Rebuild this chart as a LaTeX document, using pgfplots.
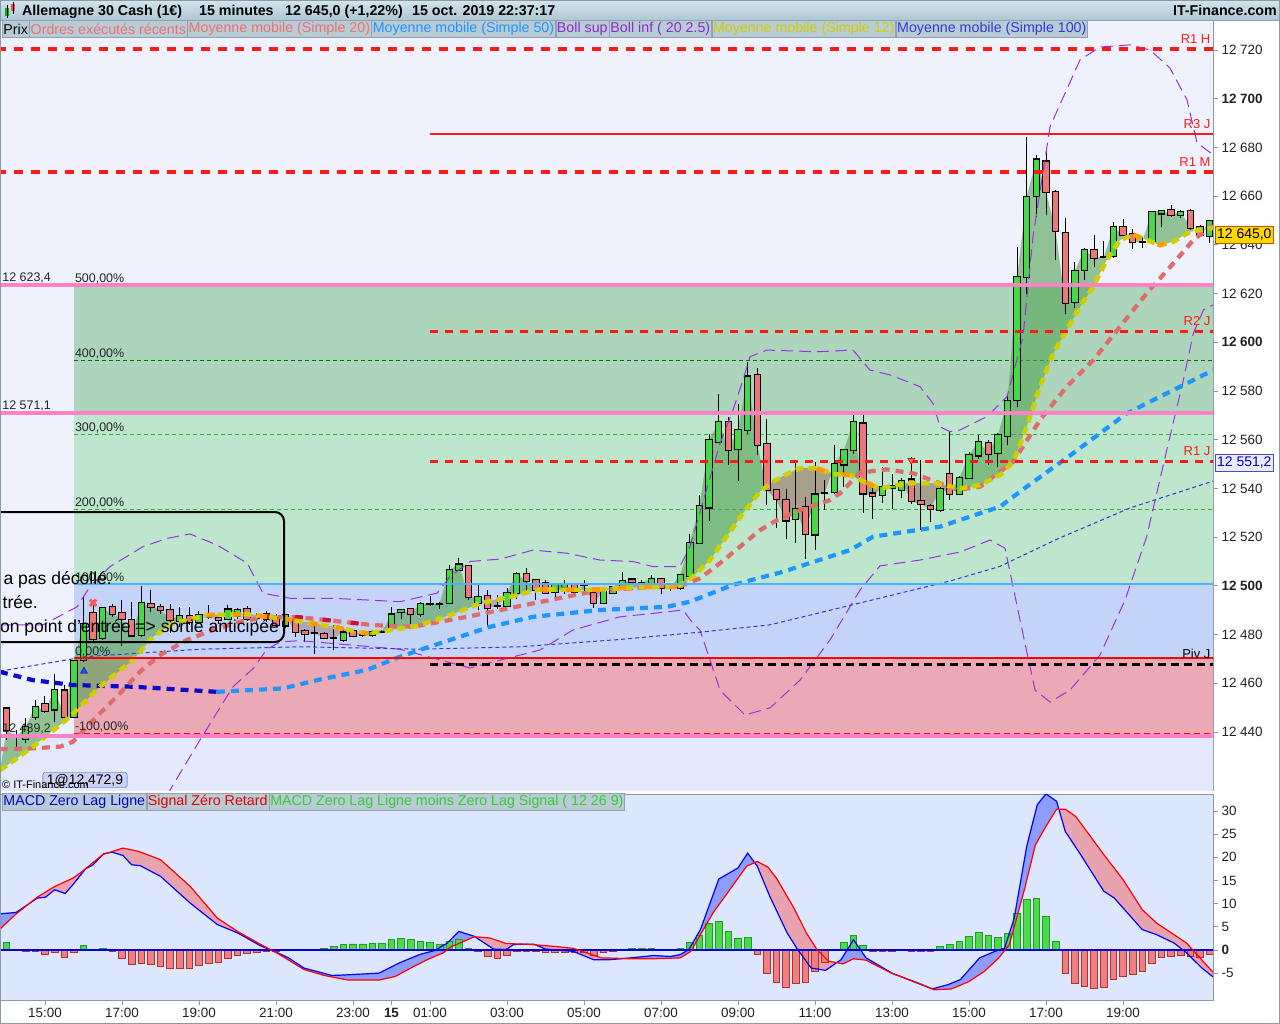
\documentclass[border=0pt]{standalone}
\usepackage{pgfplots}
\pgfplotsset{compat=1.18}
\usepackage{pgfplotstable}
\usepackage{fontspec}
\setmainfont{Liberation Sans}
\setsansfont{Liberation Sans}
\newcommand\fs[1]{\fontsize{#1}{#1}\selectfont}

\definecolor{bgtop}{HTML}{EFF2FC}
\definecolor{bglow}{HTML}{E3E9FA}
\definecolor{fibpink}{HTML}{EBA9B5}
\definecolor{fibblue}{HTML}{C4D4F8}
\definecolor{fibgreenA}{HTML}{BEE6CC}
\definecolor{fibgreenB}{HTML}{ADD5BB}
\definecolor{pinkline}{HTML}{FF82C4}
\definecolor{pivred}{HTML}{FF1A1A}
\definecolor{cloudgreen}{HTML}{52A351}
\definecolor{brownBlue}{HTML}{B2A2BA}
\definecolor{brownGreen}{HTML}{A89E8C}
\definecolor{brownLight}{HTML}{B9ADA8}
\definecolor{candgreen}{HTML}{46D846}
\definecolor{candred}{HTML}{EE7878}
\definecolor{maYellow}{HTML}{CFCF00}
\definecolor{maOrange}{HTML}{FF9A00}
\definecolor{maSalmon}{HTML}{E06B6B}
\definecolor{maCrimson}{HTML}{D0103A}
\definecolor{maBlue}{HTML}{1E96FF}
\definecolor{maDark}{HTML}{0A0AC8}
\definecolor{maHund}{HTML}{3535D5}
\definecolor{bbPurple}{HTML}{9B30E0}
\definecolor{macdbg}{HTML}{DCE6FC}
\definecolor{macdFillBlue}{HTML}{8F9DFA}
\definecolor{macdFillPink}{HTML}{E9A3AF}
\definecolor{histGreen}{HTML}{4CD94C}
\definecolor{histGreenD}{HTML}{1E9E1E}
\definecolor{histRed}{HTML}{F08080}
\definecolor{histRedD}{HTML}{B03030}
\definecolor{axisgray}{HTML}{8A9AA8}
\definecolor{tickgray}{HTML}{222222}
\definecolor{lgbg}{HTML}{B9CBD5}
\definecolor{lgborder}{HTML}{8FA2B2}
\definecolor{ttop}{HTML}{D3E4EC}
\definecolor{tbot}{HTML}{AEC7D4}
\definecolor{lgred}{HTML}{F07070}

\pgfplotstableread{
k o h l c
0 12449.7 12450.4 12436.7 12440.8
1 12438.5 12440.8 12432.6 12438.0
2 12437.4 12445.7 12435.5 12442.2
3 12446.3 12453.1 12444.9 12450.4
4 12451.5 12454.8 12447.8 12448.8
5 12449.4 12464.1 12444.2 12457.5
6 12457.2 12459.3 12444.2 12446.3
7 12446.3 12469.6 12445.7 12469.1
8 12469.6 12495.5 12468.9 12484.6
9 12488.7 12494.2 12476.5 12478.1
10 12478.7 12491.6 12478.1 12490.8
11 12491.2 12492.7 12487.4 12488.5
12 12488.7 12494.2 12475.3 12486.3
13 12486.3 12493.5 12479.1 12479.8
14 12479.8 12499.9 12479.1 12492.8
15 12492.8 12498.3 12489.4 12491.4
16 12491.4 12492.8 12488.7 12490.3
17 12490.3 12492.8 12480.5 12486.0
18 12485.7 12491.4 12483.2 12487.9
19 12487.6 12491.4 12483.9 12485.3
20 12485.3 12489.7 12484.6 12488.3
21 12488.0 12492.4 12486.5 12487.4
22 12487.1 12489.0 12484.5 12486.0
23 12486.3 12492.1 12486.0 12490.3
24 12487.9 12491.0 12486.6 12490.4
25 12490.4 12491.7 12485.5 12486.3
26 12487.0 12489.0 12485.0 12487.0
27 12488.5 12490.0 12485.5 12486.5
28 12487.0 12488.5 12483.0 12484.2
29 12483.9 12488.7 12482.8 12488.0
30 12486.3 12487.3 12479.1 12481.2
31 12481.5 12482.6 12477.1 12480.1
32 12480.5 12485.3 12472.0 12480.5
33 12480.5 12481.2 12478.4 12478.9
34 12478.7 12483.9 12473.9 12478.7
35 12478.0 12481.9 12477.1 12480.9
36 12481.5 12482.4 12479.4 12479.7
37 12480.1 12481.0 12479.0 12480.1
38 12479.8 12481.9 12479.3 12481.2
39 12481.2 12482.0 12480.5 12481.2
40 12483.2 12491.2 12483.2 12488.3
41 12489.3 12490.4 12486.7 12490.1
42 12490.4 12490.8 12484.6 12488.7
43 12488.3 12493.5 12487.3 12492.5
44 12492.5 12495.8 12491.7 12492.5
45 12492.8 12493.5 12490.7 12492.8
46 12493.2 12508.5 12492.8 12506.5
47 12506.5 12511.3 12506.5 12508.8
48 12508.1 12508.5 12494.2 12495.5
49 12493.1 12500.3 12490.1 12495.5
50 12495.9 12498.5 12483.2 12491.1
51 12491.7 12496.2 12490.7 12491.7
52 12491.7 12499.4 12491.4 12497.3
53 12497.2 12505.8 12494.8 12504.8
54 12504.8 12507.2 12498.3 12502.1
55 12502.4 12502.4 12494.2 12498.5
56 12501.0 12502.4 12496.9 12497.2
57 12497.6 12500.3 12495.5 12500.3
58 12499.4 12502.4 12496.9 12500.3
59 12500.3 12501.0 12496.9 12497.6
60 12500.3 12502.5 12497.5 12500.3
61 12497.3 12499.0 12491.1 12493.1
62 12493.1 12498.5 12492.8 12497.9
63 12497.3 12500.0 12497.0 12499.6
64 12499.9 12505.8 12499.4 12502.0
65 12502.6 12503.5 12498.5 12501.4
66 12501.3 12502.5 12500.5 12501.3
67 12500.3 12504.4 12499.6 12503.0
68 12503.0 12503.0 12496.9 12499.4
69 12499.4 12500.5 12498.0 12499.4
70 12499.0 12504.4 12498.3 12504.4
71 12504.1 12521.3 12503.7 12517.8
72 12517.7 12537.3 12517.2 12532.7
73 12532.2 12562.6 12526.7 12559.8
74 12559.2 12579.0 12559.2 12567.2
75 12567.2 12569.5 12549.6 12556.0
76 12556.4 12574.9 12543.2 12564.0
77 12564.0 12592.0 12562.6 12586.1
78 12586.5 12589.7 12553.7 12558.1
79 12558.1 12568.5 12533.2 12539.3
80 12539.3 12539.3 12524.0 12535.5
81 12535.5 12540.0 12519.5 12527.0
82 12527.7 12550.7 12517.7 12531.8
83 12532.5 12536.6 12510.9 12521.5
84 12521.1 12550.7 12514.7 12537.5
85 12538.2 12543.4 12531.1 12538.2
86 12538.6 12557.8 12537.9 12549.9
87 12549.9 12556.4 12540.7 12555.8
88 12555.8 12570.1 12554.4 12567.4
89 12566.7 12570.1 12529.8 12538.0
90 12538.0 12541.4 12527.7 12537.0
91 12537.3 12549.0 12533.9 12540.7
92 12540.4 12546.0 12531.8 12540.9
93 12539.3 12544.5 12536.3 12543.2
94 12543.7 12553.0 12533.9 12534.8
95 12534.9 12551.6 12522.9 12533.6
96 12532.8 12533.9 12526.4 12531.8
97 12531.4 12540.7 12530.4 12540.0
98 12545.9 12563.3 12535.2 12538.0
99 12537.7 12545.1 12537.3 12544.4
100 12544.5 12555.1 12544.1 12553.7
101 12553.7 12561.9 12552.4 12559.2
102 12558.8 12559.9 12549.6 12554.4
103 12554.7 12562.9 12548.9 12561.9
104 12561.5 12578.4 12557.8 12576.0
105 12576.6 12639.3 12573.6 12626.9
106 12626.9 12684.4 12620.1 12659.8
107 12660.1 12676.9 12651.6 12675.1
108 12674.2 12679.2 12652.3 12661.8
109 12661.8 12662.5 12633.8 12645.8
110 12645.0 12650.9 12611.6 12616.0
111 12616.7 12633.1 12614.2 12629.4
112 12629.9 12638.6 12625.6 12637.9
113 12637.9 12644.0 12631.0 12634.9
114 12634.9 12641.7 12634.5 12634.9
115 12635.4 12649.5 12634.5 12647.2
116 12647.5 12650.9 12642.0 12644.0
117 12644.5 12646.4 12638.2 12641.3
118 12641.3 12643.4 12638.6 12641.3
119 12641.7 12654.0 12641.3 12653.6
120 12653.0 12654.6 12647.5 12654.0
121 12654.3 12656.4 12651.6 12652.3
122 12652.3 12654.3 12650.9 12653.6
123 12654.0 12654.6 12646.1 12647.2
124 12647.2 12648.1 12643.1 12644.0
125 12643.6 12650.2 12640.9 12649.8
}\candles

\pgfplotstableread{
k p
-0.68 12424.4
-0.16 12425.7
2.75 12434.0
6.60 12446.3
9.71 12458.6
13.14 12469.6
15.22 12479.1
17.30 12484.6
20.83 12488.0
24.99 12488.4
29.14 12486.3
33.92 12483.2
37.45 12480.5
39.53 12481.6
42.65 12483.5
46.08 12488.0
49.19 12492.8
52.31 12495.5
55.43 12498.6
60.31 12498.3
65.09 12499.4
69.66 12499.6
71.32 12503.8
73.09 12510.6
75.17 12522.2
76.52 12529.8
78.29 12538.7
79.64 12542.8
81.09 12545.9
82.44 12548.3
84.21 12548.3
85.87 12545.9
87.64 12545.5
88.68 12543.5
90.75 12540.0
93.53 12542.1
96.64 12542.1
99.06 12540.0
101.14 12541.4
103.22 12545.5
104.60 12551.0
105.99 12565.3
107.38 12581.8
108.76 12595.5
110.15 12605.0
111.53 12614.6
112.91 12622.8
114.31 12633.8
115.69 12642.0
117.07 12644.1
118.46 12642.0
119.84 12639.9
121.23 12641.3
122.96 12645.4
125.04 12646.8
125.35 12647.0
}\maTwelve

\pgfplotstableread{
k p
-0.68 12433.0
2.75 12433.3
5.56 12434.0
6.91 12436.0
9.71 12447.7
11.79 12455.9
13.87 12464.8
15.95 12471.6
18.75 12477.8
21.45 12481.9
24.26 12485.3
27.06 12487.3
30.49 12487.1
33.92 12485.7
38.08 12483.9
42.23 12483.2
47.84 12487.3
54.70 12492.8
61.66 12498.3
65.09 12499.0
70.29 12500.4
72.05 12503.1
74.13 12509.3
76.21 12516.1
78.29 12522.9
80.05 12527.0
82.44 12531.1
85.56 12535.2
86.60 12538.0
88.68 12546.5
91.45 12547.8
94.21 12546.2
96.99 12542.1
98.75 12539.4
101.14 12540.7
104.60 12551.0
107.38 12568.1
110.15 12581.8
112.91 12592.7
115.69 12606.4
118.46 12620.1
121.23 12632.4
123.31 12642.0
125.35 12648.0
}\maTwenty

\pgfplotstableread{
k p
-0.68 12464.7
2.75 12461.3
6.91 12459.3
13.14 12458.6
21.87 12456.5
}\maFiftyA

\pgfplotstableread{
k p
21.87 12456.5
28.73 12457.9
32.26 12461.3
37.45 12465.5
40.88 12470.9
42.96 12473.7
50.23 12483.2
54.70 12487.3
61.66 12490.1
68.62 12491.4
71.01 12493.5
75.48 12500.4
80.68 12505.8
87.64 12514.7
90.03 12520.2
96.99 12524.3
103.22 12532.5
105.99 12540.7
110.80 12554.4
116.38 12570.8
121.23 12580.4
125.35 12588.5
}\maFiftyB

\pgfplotstableread{
k p
-0.68 12465
8.36 12471
20.10 12474
30.49 12475
42.96 12474
53.35 12475
63.74 12478
72.05 12481
79.32 12484
87.64 12492
98.03 12502
103.22 12508
109.04 12519
116.73 12532
125.35 12543
}\maHundred

\pgfplotstableread{
k p
-0.68 12484.0
3.79 12484.0
7.32 12491.4
8.68 12499.7
10.75 12507.9
14.18 12516.1
16.68 12519.5
19.06 12521.3
21.87 12516.8
25.01 12509.3
26.65 12497.0
29.45 12494.9
33.92 12494.9
37.45 12494.2
40.88 12493.5
44.73 12497.0
46.08 12503.8
48.16 12510.0
51.27 12511.0
54.70 12514.7
58.23 12513.4
61.66 12510.6
65.09 12510.0
67.17 12507.9
69.97 12507.9
71.01 12516.1
74.13 12558.5
75.48 12572.2
76.52 12584.5
77.25 12594.1
79.01 12596.8
84.21 12596.1
87.95 12596.8
89.71 12588.6
91.79 12586.6
94.91 12581.8
96.26 12574.9
96.99 12565.3
98.03 12563.3
99.06 12564.0
101.87 12569.5
103.95 12577.7
105.61 12602.3
106.65 12643.4
108.42 12688.5
111.53 12715.9
113.61 12721.2
116.73 12722.1
118.81 12720.0
120.88 12712.6
122.65 12699.5
123.69 12681.9
125.35 12677.0
}\bbUp

\pgfplotstableread{
k p
15.50 12400.0
16.99 12416.2
20.10 12436.7
23.53 12458.6
25.61 12466.0
27.06 12474.0
28.42 12477.0
30.49 12477.5
40.88 12474.0
48.16 12466.3
55.43 12473.7
58.86 12481.9
63.74 12487.3
67.17 12488.7
70.29 12490.1
71.32 12484.6
72.05 12481.9
73.09 12469.6
74.13 12457.2
76.73 12447.0
79.32 12449.9
82.44 12461.3
85.56 12477.8
88.68 12498.3
90.75 12508.2
94.91 12510.6
99.06 12513.9
102.18 12518.8
103.74 12515.5
105.30 12486.0
106.86 12457.2
108.42 12452.3
110.49 12457.2
113.61 12471.6
116.21 12494.2
118.46 12520.2
120.55 12555.8
122.27 12584.5
123.31 12603.7
124.36 12613.3
125.35 12615.3
}\bbLow

\pgfplotstableread{
k v
-0.68 7.8
1.0 8.1
3.2 11.2
4.05 11.4
5.0 13.0
6.1 12.2
6.9 14.1
8.2 17.5
9.0 18.4
10.1 20.8
11.0 21.1
12.1 20.4
13.0 18.4
13.9 18.2
16.0 15.9
19.1 10.1
21.9 5.5
24.0 3.7
26.4 0.9
28.1 -0.55
29.3 -1.7
30.9 -3.9
33.8 -5.5
35.1 -5.4
38.7 -5.0
40.8 -2.8
42.9 -1.0
44.5 -0.1
45.8 1.5
47.0 4.0
48.6 2.95
50.6 0.2
51.9 0.1
52.7 1.2
54.8 1.25
56.0 0.2
58.9 -0.3
61.0 -2.1
62.7 -2.1
64.9 -1.7
67.2 -1.2
69.0 -1.4
70.0 -1.0
70.9 0.1
72.1 4.4
74.0 15.3
76.0 17.7
77.0 20.9
78.0 18.1
79.3 11.6
81.1 3.7
82.2 0.1
83.6 -3.9
85.1 -4.4
86.7 -2.1
88.0 2.2
89.3 -1.7
92.0 -5.0
94.2 -6.8
96.2 -8.4
97.8 -7.5
99.1 -6.4
101.1 -1.7
102.7 -0.3
103.7 0.4
104.7 6.9
106.0 22.4
107.1 31.4
108.0 33.7
109.1 32.1
110.0 25.6
111.5 20.9
114.0 12.7
115.1 11.2
118.0 4.4
119.5 3.3
121.3 1.5
122.6 -0.6
124.2 -3.9
125.35 -5.8
}\macd

\pgfplotstableread{
k v
-0.68 4.5
1.0 7.8
3.2 11.4
5.0 13.7
6.9 15.5
7.9 17.0
10.0 20.6
12.1 22.0
13.7 21.3
16.0 19.5
19.1 13.7
21.9 6.9
24.0 4.0
26.4 1.2
28.1 -0.65
30.9 -4.2
33.0 -5.5
35.5 -6.5
38.7 -6.5
40.4 -5.7
42.0 -3.9
43.7 -2.1
45.4 -0.6
46.1 0.6
48.6 2.85
50.2 2.6
51.9 1.4
54.4 1.2
56.8 0.8
58.9 0.35
61.8 -1.7
62.7 -1.75
64.9 -1.9
67.2 -1.9
70.0 -1.7
71.1 -0.3
73.4 8.0
74.9 12.3
76.9 18.1
78.0 19.1
79.1 17.9
80.0 15.5
81.8 9.1
83.1 3.7
84.2 0.1
85.4 -2.4
86.9 -3.0
88.0 -1.9
89.3 -2.2
92.0 -5.05
94.7 -7.1
96.4 -8.6
98.2 -8.4
100.0 -6.8
101.6 -4.6
103.1 -1.7
104.2 1.2
105.8 13.4
106.9 22.7
108.0 26.7
109.1 30.4
110.0 30.4
111.1 28.8
114.0 20.6
116.0 15.2
118.0 8.7
119.5 5.8
122.6 1.5
125.35 -4.8
}\signal

\pgfplotstableread{
k v
0 1.7
1 0.2
2 -0.3
3 -0.3
4 -0.9
5 -0.6
6 -1.7
7 -0.6
8 0.9
9 0.2
10 0.4
11 -0.4
12 -1.8
13 -3.2
14 -3.0
15 -3.2
16 -3.5
17 -3.9
18 -3.9
19 -3.9
20 -3.3
21 -2.8
22 -2.7
23 -1.9
24 -1.1
25 -0.8
26 -0.6
27 -0.4
28 -0.4
29 0.2
30 0
31 0
32 0.2
33 0.4
34 0.7
35 1.2
36 1.3
37 1.3
38 1.5
39 1.5
40 2.2
41 2.4
42 2.2
43 1.9
44 1.7
45 1.3
46 1.9
47 2.2
48 0.4
49 -0.4
50 -1.4
51 -1.9
52 -1.2
53 -0.4
54 -0.3
55 -0.4
56 -0.6
57 -0.6
58 -0.6
59 -0.6
60 -0.6
61 -1.1
62 -0.6
63 -0.3
64 0.1
65 0.3
66 0.3
67 0.4
68 0.2
69 0
70 0.3
71 1.7
72 3.2
73 5.8
74 6.2
75 4.0
76 2.6
77 2.8
78 -0.9
79 -5.0
80 -7.0
81 -8.1
82 -7.3
83 -7.1
84 -4.6
85 -2.7
86 -0.1
87 1.7
88 3.2
89 0.9
90 -0.3
91 -0.4
92 -0.4
93 0.2
94 -0.3
95 -0.4
96 -0.4
97 0.7
98 1.1
99 1.9
100 3.0
101 3.7
102 3.1
103 2.8
104 3.5
105 7.8
106 11.0
107 11.2
108 7.3
109 1.9
110 -5.0
111 -7.3
112 -7.8
113 -8.2
114 -8.0
115 -6.3
116 -5.7
117 -5.2
118 -4.6
119 -2.8
120 -1.7
121 -1.4
122 -1.2
123 -1.4
124 -1.5
125 -0.9
}\hist

\pgfplotsset{
  chart/.style={scale only axis, width=1213bp, xmin=-0.675, xmax=125.35,
    axis line style={draw=axisgray, line width=1bp},
    tick style={draw=axisgray, line width=0.8bp},
    tick align=outside, major tick length=5bp,
    ticklabel style={font=\fs{13.5}, text=tickgray},
    clip=true},
  hl/.style={forget plot, mark=none},
  poly/.style={forget plot, mark=none, draw=none, even odd rule},
}

\begin{document}
\begin{tikzpicture}
\fill[white] (1213bp,0) rectangle (1280bp,-1024bp);
\fill[white] (0,-1000bp) rectangle (1280bp,-1024bp);
\fill[white] (0,-790bp) rectangle (1280bp,-794bp);

% ================= PRICE PANEL =================
\begin{axis}[chart, at={(0bp,-790bp)}, anchor=south west, height=770bp,
  ymin=12416.2, ymax=12732.3,
  axis background/.style={fill=bgtop},
  xtick=\empty,
  ytick={12440,12460,...,12720},
  yticklabels={12 440,12 460,12 480,\textbf{12 500},12 520,12 540,12 560,12 580,\textbf{12 600},12 620,12 640,12 660,12 680,\textbf{12 700},12 720},
  ytick pos=right, yticklabel pos=right,
  yticklabel style={anchor=west, xshift=0bp}]

\addplot[poly, fill=bglow] coordinates {(-1,12400) (127,12400) (127,12438.6) (-1,12438.6)} -- cycle;
\addplot[poly, fill=fibpink] coordinates {(7.0,12438.6) (127,12438.6) (127,12470.2) (7.0,12470.2)} -- cycle;
\addplot[poly, fill=fibblue] coordinates {(7.0,12470.2) (127,12470.2) (127,12500.6) (7.0,12500.6)} -- cycle;
\addplot[poly, fill=fibgreenA] coordinates {(7.0,12500.6) (127,12500.6) (127,12571.1) (7.0,12571.1)} -- cycle;
\addplot[poly, fill=fibgreenB] coordinates {(7.0,12571.1) (127,12571.1) (127,12623.4) (7.0,12623.4)} -- cycle;

\addplot[hl, color=green!45!black, line width=0.7bp, dash pattern=on 4bp off 3bp] coordinates {(7.0,12592.7) (127,12592.7)};
\addplot[hl, color=green!60!black!80, line width=0.7bp, dash pattern=on 4bp off 3bp] coordinates {(7.0,12562.0) (127,12562.0)};
\addplot[hl, color=green!60!black!80, line width=0.7bp, dash pattern=on 4bp off 3bp] coordinates {(7.0,12531.3) (127,12531.3)};
\addplot[hl, color=red, line width=0.8bp, dash pattern=on 6bp off 4bp] coordinates {(7.0,12439.5) (127,12439.5)};

% cloud between close and MA 12 (close forward, MA 12 backward)
\addplot[poly, fill=cloudgreen, fill opacity=0.6] coordinates {
(0,12440.8) (1,12438.0) (2,12442.2) (3,12450.4) (4,12448.8) (5,12457.5) (6,12446.3) (7,12469.1) (8,12484.6) (9,12478.1)
(10,12490.8) (11,12488.5) (12,12486.3) (13,12479.8) (14,12492.8) (15,12491.4) (16,12490.3) (17,12486.0) (18,12487.9) (19,12485.3)
(20,12488.3) (21,12487.4) (22,12486.0) (23,12490.3) (24,12490.4) (25,12486.3) (26,12487.0) (27,12486.5) (28,12484.2) (29,12488.0)
(30,12481.2) (31,12480.1) (32,12480.5) (33,12478.9) (34,12478.7) (35,12480.9) (36,12479.7) (37,12480.1) (38,12481.2) (39,12481.2)
(40,12488.3) (41,12490.1) (42,12488.7) (43,12492.5) (44,12492.5) (45,12492.8) (46,12506.5) (47,12508.8) (48,12495.5) (49,12495.5)
(50,12491.1) (51,12491.7) (52,12497.3) (53,12504.8) (54,12502.1) (55,12498.5) (56,12497.2) (57,12500.3) (58,12500.3) (59,12497.6)
(60,12500.3) (61,12493.1) (62,12497.9) (63,12499.6) (64,12502.0) (65,12501.4) (66,12501.3) (67,12503.0) (68,12499.4) (69,12499.4)
(70,12504.4) (71,12517.8) (72,12532.7) (73,12559.8) (74,12567.2) (75,12556.0) (76,12564.0) (77,12586.1) (78,12558.1) (79,12539.3)
(80,12535.5) (81,12527.0) (82,12531.8) (83,12521.5) (84,12537.5) (85,12538.2) (86,12549.9) (87,12555.8) (88,12567.4) (89,12538.0)
(90,12537.0) (91,12540.7) (92,12540.9) (93,12543.2) (94,12534.8) (95,12533.6) (96,12531.8) (97,12540.0) (98,12538.0) (99,12544.4)
(100,12553.7) (101,12559.2) (102,12554.4) (103,12561.9) (104,12576.0) (105,12626.9) (106,12659.8) (107,12675.1) (108,12661.8) (109,12645.8)
(110,12616.0) (111,12629.4) (112,12637.9) (113,12634.9) (114,12634.9) (115,12647.2) (116,12644.0) (117,12641.3) (118,12641.3) (119,12653.6)
(120,12654.0) (121,12652.3) (122,12653.6) (123,12647.2) (124,12644.0) (125,12649.8)
(125.35,12647.0) (125.04,12646.8) (122.96,12645.4) (121.23,12641.3) (119.84,12639.9) (118.46,12642.0) (117.07,12644.1) (115.69,12642.0)
(114.31,12633.8) (112.91,12622.8) (111.53,12614.6) (110.15,12605.0) (108.76,12595.5) (107.38,12581.8) (105.99,12565.3) (104.60,12551.0)
(103.22,12545.5) (101.14,12541.4) (99.06,12540.0) (96.64,12542.1) (93.53,12542.1) (90.75,12540.0) (88.68,12543.5) (87.64,12545.5)
(85.87,12545.9) (84.21,12548.3) (82.44,12548.3) (81.09,12545.9) (79.64,12542.8) (78.29,12538.7) (76.52,12529.8) (75.17,12522.2)
(73.09,12510.6) (71.32,12503.8) (69.66,12499.6) (65.09,12499.4) (60.31,12498.3) (55.43,12498.6) (52.31,12495.5) (49.19,12492.8)
(46.08,12488.0) (42.65,12483.5) (39.53,12481.6) (37.45,12480.5) (33.92,12483.2) (29.14,12486.3) (24.99,12488.4) (20.83,12488.0)
(17.30,12484.6) (15.22,12479.1) (13.14,12469.6) (9.71,12458.6) (6.60,12446.3) (2.75,12434.0) (-0.16,12425.7) (-0.68,12424.4)} -- cycle;
% parts where the close is under MA 12
\addplot[poly, fill=brownBlue] coordinates {(20.3,12488.0) (21,12487.4) (22,12486.0) (22.4,12488.1) (20.83,12488.0)} -- cycle;
\addplot[poly, fill=brownBlue] coordinates {(24.5,12488.4) (25,12486.3) (26,12487.0) (27,12486.5) (28,12484.2) (28.6,12486.5) (24.99,12488.4)} -- cycle;
\addplot[poly, fill=brownBlue] coordinates {(29.26,12486.2) (30,12481.2) (31,12480.1) (32,12480.5) (33,12478.9) (34,12478.7) (35,12480.9) (36,12479.7) (37,12480.1) (38,12481.2) (39,12481.2) (39.1,12481.7) (37.45,12480.5) (33.92,12483.2)} -- cycle;
\addplot[poly, fill=brownBlue] coordinates {(49.5,12493.3) (50,12491.1) (51,12491.7) (51.6,12495.0)} -- cycle;
\addplot[poly, fill=brownBlue] coordinates {(60.28,12498.3) (61,12493.1) (62,12497.9) (62.6,12498.9)} -- cycle;
\addplot[poly, fill=brownGreen] coordinates {(78.94,12540.5) (79,12539.3) (80,12535.5) (81,12527.0) (82,12531.8) (83,12521.5) (84,12537.5) (85,12538.2) (85.69,12546.3) (84.21,12548.3) (82.44,12548.3) (81.09,12545.9) (79.64,12542.8)} -- cycle;
\addplot[poly, fill=brownGreen] coordinates {(88.8,12543.3) (89,12538.0) (90,12537.0) (90.9,12540.3)} -- cycle;
\addplot[poly, fill=brownGreen] coordinates {(93.15,12541.9) (94,12534.8) (95,12533.6) (96,12531.8) (97,12540.0) (98,12538.0) (98.35,12540.2) (96.64,12542.1) (93.53,12542.1)} -- cycle;
\addplot[poly, fill=brownLight] coordinates {(116.4,12642.9) (117,12641.3) (118,12641.3) (118.07,12642.2) (117.07,12644.1)} -- cycle;
\addplot[poly, fill=brownLight] coordinates {(123.5,12645.6) (124,12644.0) (124.4,12646.3)} -- cycle;

% candles: wicks, body borders, body fills
\addplot[hl, draw=none, error bars/.cd, y dir=both, y explicit, error mark=none,
   error bar style={line width=1bp, draw=black, solid}]
   table[x=k, y expr={(\thisrow{h}+\thisrow{l})/2}, y error expr={(\thisrow{h}-\thisrow{l})/2}] {\candles};
\addplot[hl, draw=none, error bars/.cd, y dir=both, y explicit, error mark=none,
   error bar style={line width=7.4bp, draw=black, solid}]
   table[x=k, y expr={(\thisrow{o}+\thisrow{c})/2}, y error expr={abs(\thisrow{c}-\thisrow{o})/2+0.45}] {\candles};
\addplot[hl, draw=none, restrict expr to domain={\thisrow{c}-\thisrow{o}}{0.01:1000},
   error bars/.cd, y dir=both, y explicit, error mark=none,
   error bar style={line width=5.4bp, draw=candgreen, solid}]
   table[x=k, y expr={(\thisrow{o}+\thisrow{c})/2}, y error expr={abs(\thisrow{c}-\thisrow{o})/2}] {\candles};
\addplot[hl, draw=none, restrict expr to domain={\thisrow{c}-\thisrow{o}}{-1000:-0.01},
   error bars/.cd, y dir=both, y explicit, error mark=none,
   error bar style={line width=5.4bp, draw=candred, solid}]
   table[x=k, y expr={(\thisrow{o}+\thisrow{c})/2}, y error expr={abs(\thisrow{c}-\thisrow{o})/2}] {\candles};

\addplot[hl, color=bbPurple, line width=1bp, dash pattern=on 12bp off 6bp] table[x=k, y=p] {\bbUp};
\addplot[hl, color=bbPurple, line width=1bp, dash pattern=on 12bp off 6bp] table[x=k, y=p] {\bbLow};
\addplot[hl, color=maHund, line width=1bp, dash pattern=on 4bp off 3bp] table[x=k, y=p] {\maHundred};
\addplot[hl, color=maDark, line width=4.2bp, dash pattern=on 8bp off 6bp] table[x=k, y=p] {\maFiftyA};
\addplot[hl, color=maBlue, line width=4.2bp, dash pattern=on 8bp off 6bp] table[x=k, y=p] {\maFiftyB};
\addplot[hl, color=maSalmon, line width=4.2bp, dash pattern=on 8bp off 6bp] table[x=k, y=p] {\maTwenty};
\addplot[hl, color=maCrimson, line width=4.2bp, dash pattern=on 8bp off 20bp, restrict x to domain=27:42] table[x=k, y=p] {\maTwenty};
\addplot[hl, color=maYellow, line width=4.6bp, dash pattern=on 8bp off 5bp] table[x=k, y=p] {\maTwelve};
\addplot[hl, color=maOrange, line width=4.6bp, dash pattern=on 8bp off 18bp, restrict x to domain=20:40] table[x=k, y=p] {\maTwelve};
\addplot[hl, color=maOrange, line width=4.6bp, dash pattern=on 8bp off 18bp, restrict x to domain=55:70] table[x=k, y=p] {\maTwelve};
\addplot[hl, color=maOrange, line width=4.6bp, dash pattern=on 8bp off 18bp, restrict x to domain=84:92] table[x=k, y=p] {\maTwelve};
\addplot[hl, color=maOrange, line width=4.6bp, dash pattern=on 8bp off 18bp, restrict x to domain=117:122] table[x=k, y=p] {\maTwelve};

\addplot[hl, color=pinkline, line width=4bp] coordinates {(-1,12623.4) (127,12623.4)};
\addplot[hl, color=pinkline, line width=4bp] coordinates {(-1,12571.1) (127,12571.1)};
\addplot[hl, color=pinkline, line width=4bp] coordinates {(-1,12438.5) (127,12438.5)};
\addplot[hl, color=red, line width=2bp] coordinates {(7.0,12470.2) (127,12470.2)};
\addplot[hl, color=blue!45!cyan!70!white, line width=2bp] coordinates {(7.0,12500.6) (127,12500.6)};
\addplot[hl, color=pivred, line width=3.5bp, dash pattern=on 9bp off 8bp] coordinates {(-1,12720.4) (127,12720.4)};
\addplot[hl, color=pivred, line width=3.5bp, dash pattern=on 9bp off 8bp] coordinates {(-1,12669.9) (127,12669.9)};
\addplot[hl, color=pivred, line width=2.8bp] coordinates {(44.0,12685.5) (127,12685.5)};
\addplot[hl, color=pivred, line width=3bp, dash pattern=on 8bp off 7bp] coordinates {(44.0,12604.6) (127,12604.6)};
\addplot[hl, color=pivred, line width=3bp, dash pattern=on 8bp off 7bp] coordinates {(44.0,12551.2) (127,12551.2)};
\addplot[hl, color=black, line width=3bp, dash pattern=on 8bp off 5bp] coordinates {(44.0,12467.9) (127,12467.9)};

\addplot[hl, only marks, mark=x, mark size=4.5bp, mark options={line width=3bp, color=red!65}] coordinates {(9.0,12493.0)};
\addplot[hl, only marks, mark=triangle*, mark size=4bp, mark options={fill=blue!60!cyan, draw=blue!70!black}] coordinates {(8.05,12465.0)};
\addplot[hl, only marks, mark=triangle*, mark size=4bp, mark options={fill=red!60, draw=red!70!black, rotate=180}] coordinates {(94.0,12551.5)};

\begin{scope}[every node/.style={font=\fs{12.5}, text=black!85, inner sep=1bp}]
\node[anchor=base west] at (axis cs:7.0,12624.6) {500,00\%};
\node[anchor=base west] at (axis cs:7.0,12593.9) {400,00\%};
\node[anchor=base west] at (axis cs:7.0,12563.2) {300,00\%};
\node[anchor=base west] at (axis cs:7.0,12532.5) {200,00\%};
\node[anchor=base west] at (axis cs:7.0,12501.8) {100,00\%};
\node[anchor=base west] at (axis cs:7.0,12471.4) {0,00\%};
\node[anchor=base west] at (axis cs:7.0,12440.7) {-100,00\%};
\node[anchor=base west] at (axis cs:-0.55,12625.0) {12 623,4};
\node[anchor=base west] at (axis cs:-0.55,12572.6) {12 571,1};
\node[anchor=base west] at (axis cs:-0.55,12440.0) {12 439,2};
\end{scope}
\begin{scope}[every node/.style={font=\fs{13}, text=pivred, inner sep=1bp, anchor=base east}]
\node at (axis cs:125.2,12722.6) {R1 H};
\node at (axis cs:125.2,12687.6) {R3 J};
\node at (axis cs:125.2,12672.2) {R1 M};
\node at (axis cs:125.2,12606.8) {R2 J};
\node at (axis cs:125.2,12553.4) {R1 J};
\node[text=black] at (axis cs:125.2,12470.0) {Piv J};
\end{scope}
\end{axis}

% ================= MACD PANEL =================
\begin{axis}[chart, at={(0bp,-1000bp)}, anchor=south west, height=206bp,
  ymin=-10.8, ymax=33.67,
  axis background/.style={fill=macdbg},
  ytick={-5,0,5,10,15,20,25,30},
  yticklabels={-5,\textbf{0},5,10,15,20,25,30},
  ytick pos=right, yticklabel pos=right,
  yticklabel style={anchor=west},
  xtick={4,12,20,28,36,40,44,52,60,68,76,84,92,100,108,116},
  xticklabels={15:00,17:00,19:00,21:00,23:00,\textbf{15},01:00,03:00,05:00,07:00,09:00,11:00,13:00,15:00,17:00,19:00},
  xtick pos=bottom]
% area between MACD (forward) and signal (backward)
\addplot[poly, fill=macdFillPink] coordinates {
(-0.68,7.8) (1.0,8.1) (3.2,11.2) (4.05,11.4) (5.0,13.0) (6.1,12.2) (6.9,14.1) (8.2,17.5) (9.0,18.4) (10.1,20.8)
(11.0,21.1) (12.1,20.4) (13.0,18.4) (13.9,18.2) (16.0,15.9) (19.1,10.1) (21.9,5.5) (24.0,3.7) (26.4,0.9) (28.1,-0.55)
(29.3,-1.7) (30.9,-3.9) (33.8,-5.5) (35.1,-5.4) (38.7,-5.0) (40.8,-2.8) (42.9,-1.0) (44.5,-0.1) (45.8,1.5) (47.0,4.0)
(48.6,2.95) (50.6,0.2) (51.9,0.1) (52.7,1.2) (54.8,1.25) (56.0,0.2) (58.9,-0.3) (61.0,-2.1) (62.7,-2.1) (64.9,-1.7)
(67.2,-1.2) (69.0,-1.4) (70.0,-1.0) (70.9,0.1) (72.1,4.4) (74.0,15.3) (76.0,17.7) (77.0,20.9) (78.0,18.1) (79.3,11.6)
(81.1,3.7) (82.2,0.1) (83.6,-3.9) (85.1,-4.4) (86.7,-2.1) (88.0,2.2) (89.3,-1.7) (92.0,-5.0) (94.2,-6.8) (96.2,-8.4)
(97.8,-7.5) (99.1,-6.4) (101.1,-1.7) (102.7,-0.3) (103.7,0.4) (104.7,6.9) (106.0,22.4) (107.1,31.4) (108.0,33.7) (109.1,32.1)
(110.0,25.6) (111.5,20.9) (114.0,12.7) (115.1,11.2) (118.0,4.4) (119.5,3.3) (121.3,1.5) (122.6,-0.6) (124.2,-3.9) (125.35,-5.8)
(125.35,-4.8) (122.6,1.5) (119.5,5.8) (118.0,8.7) (116.0,15.2) (114.0,20.6) (111.1,28.8) (110.0,30.4) (109.1,30.4) (108.0,26.7)
(106.9,22.7) (105.8,13.4) (104.2,1.2) (103.1,-1.7) (101.6,-4.6) (100.0,-6.8) (98.2,-8.4) (96.4,-8.6) (94.7,-7.1) (92.0,-5.05)
(89.3,-2.2) (88.0,-1.9) (86.9,-3.0) (85.4,-2.4) (84.2,0.1) (83.1,3.7) (81.8,9.1) (80.0,15.5) (79.1,17.9) (78.0,19.1)
(76.9,18.1) (74.9,12.3) (73.4,8.0) (71.1,-0.3) (70.0,-1.7) (67.2,-1.9) (64.9,-1.9) (62.7,-1.75) (61.8,-1.7) (58.9,0.35)
(56.8,0.8) (54.4,1.2) (51.9,1.4) (50.2,2.6) (48.6,2.85) (46.1,0.6) (45.4,-0.6) (43.7,-2.1) (42.0,-3.9) (40.4,-5.7)
(38.7,-6.5) (35.5,-6.5) (33.0,-5.5) (30.9,-4.2) (28.1,-0.65) (26.4,1.2) (24.0,4.0) (21.9,6.9) (19.1,13.7) (16.0,19.5)
(13.7,21.3) (12.1,22.0) (10.0,20.6) (7.9,17.0) (6.9,15.5) (5.0,13.7) (3.2,11.4) (1.0,7.8) (-0.68,4.5)} -- cycle;
% parts where MACD is above its signal
\addplot[poly, fill=macdFillBlue] coordinates {(-0.68,7.8) (1.0,8.1) (2.6,10.4) (1.0,7.8) (-0.68,4.5)} -- cycle;
\addplot[poly, fill=macdFillBlue] coordinates {(27.55,-0.05) (28.1,-0.55) (29.3,-1.7) (30.9,-3.9) (33.8,-5.5) (35.1,-5.4) (38.7,-5.0) (40.8,-2.8) (42.9,-1.0) (44.5,-0.1) (45.8,1.5) (47.0,4.0) (48.6,2.95) (48.68,2.84) (48.6,2.85) (46.1,0.6) (45.4,-0.6) (43.7,-2.1) (42.0,-3.9) (40.4,-5.7) (38.7,-6.5) (35.5,-6.5) (33.0,-5.5) (30.9,-4.2) (28.1,-0.65)} -- cycle;
\addplot[poly, fill=macdFillBlue] coordinates {(63.8,-1.85) (64.9,-1.7) (67.2,-1.2) (69.0,-1.4) (70.0,-1.0) (70.9,0.1) (72.1,4.4) (74.0,15.3) (76.0,17.7) (77.0,20.9) (77.73,18.86) (76.9,18.1) (74.9,12.3) (73.4,8.0) (71.1,-0.3) (70.0,-1.7) (67.2,-1.9) (64.9,-1.9)} -- cycle;
\addplot[poly, fill=macdFillBlue] coordinates {(86.25,-2.75) (86.7,-2.1) (88.0,2.2) (89.3,-1.7) (92.0,-5.0) (92.85,-5.7) (92.0,-5.05) (89.3,-2.2) (88.0,-1.9) (86.9,-3.0)} -- cycle;
\addplot[poly, fill=macdFillBlue] coordinates {(96.15,-8.4) (96.2,-8.4) (97.8,-7.5) (99.1,-6.4) (101.1,-1.7) (102.7,-0.3) (103.7,0.4) (104.7,6.9) (106.0,22.4) (107.1,31.4) (108.0,33.7) (109.1,32.1) (109.34,30.4) (109.1,30.4) (108.0,26.7) (106.9,22.7) (105.8,13.4) (104.2,1.2) (103.1,-1.7) (101.6,-4.6) (100.0,-6.8) (98.2,-8.4) (96.4,-8.6)} -- cycle;

\addplot[hl, ybar, bar width=6.6bp, bar shift=0pt, fill=histGreen, draw=histGreenD, line width=0.8bp,
   restrict y to domain=0.05:100] table[x=k, y=v] {\hist};
\addplot[hl, ybar, bar width=6.6bp, bar shift=0pt, fill=histRed, draw=histRedD, line width=0.8bp,
   restrict y to domain=-100:-0.05] table[x=k, y=v] {\hist};
\addplot[hl, color=blue!85!black, line width=1.5bp] coordinates {(-1,0) (127,0)};
\addplot[hl, color=blue, line width=1.2bp] table[x=k, y=v] {\macd};
\addplot[hl, color=red, line width=1.2bp] table[x=k, y=v] {\signal};
\end{axis}

% ================= CHROME =================
\shade[top color=ttop, bottom color=tbot] (0,0) rectangle (1280bp,-20bp);
\draw[lgborder] (0,-20bp) -- (1280bp,-20bp);
\fill[green!70!black] (5bp,-8bp) rectangle (9bp,-16bp);
\draw[black] (7bp,-5bp) -- (7bp,-18bp);
\fill[red!70] (11bp,-4bp) rectangle (15bp,-11bp);
\draw[black] (13bp,-2bp) -- (13bp,-14bp);
\begin{scope}[every node/.style={font=\bfseries\fs{14.3}, text=black, inner sep=0bp, anchor=base west}]
\node at (22bp,-15bp) {Allemagne 30 Cash (1€)};
\node at (199bp,-15bp) {15 minutes};
\node at (285bp,-15bp) {12 645,0 (+1,22\%)};
\node at (412bp,-15bp) {15 oct. 2019 22:37:17};
\node[anchor=base east] at (1277bp,-15bp) {IT-Finance.com};
\end{scope}

\begin{scope}[every node/.style={font=\fs{14.3}, fill=lgbg, draw=lgborder, inner xsep=1.2bp, inner ysep=0bp, minimum height=17bp, anchor=west}]
\node[text=black] (l1) at (2bp,-29bp) {Prix};
\node[text=lgred] (l2) at (l1.east) {Ordres exécutés récents};
\node[text=lgred] (l3) at (l2.east) {Moyenne mobile (Simple 20)};
\node[text=maBlue] (l4) at (l3.east) {Moyenne mobile (Simple 50)};
\node[text=bbPurple!90!black] (l5) at (l4.east) {Boll sup};
\node[text=bbPurple!90!black] (l6) at (l5.east) {Boll inf ( 20 2.5)};
\node[text=maYellow] (l7) at (l6.east) {Moyenne mobile (Simple 12)};
\node[text=maHund] (l8) at (l7.east) {Moyenne mobile (Simple 100)};
\node[text=blue!80!black] (m1) at (2bp,-802bp) {MACD Zero Lag Ligne};
\node[text=red!90!black] (m2) at (m1.east) {Signal Zéro Retard};
\node[text=green!75!black!80] (m3) at (m2.east) {MACD Zero Lag Ligne moins Zero Lag Signal ( 12 26 9)};
\end{scope}

\begin{scope}[overlay]
\clip (0,0) rectangle (1280bp,-1024bp);
\draw[black, line width=2bp, rounded corners=9bp] (-20bp,-512bp) rectangle (284bp,-642bp);
\begin{scope}[every node/.style={font=\fs{17.6}, text=black, inner sep=0bp, anchor=base east}]
\node at (112bp,-584bp) {a pas décollé.};
\node at (38bp,-608bp) {trée.};
\node at (279bp,-632bp) {on point d'entrée => sortie anticipée};
\end{scope}
\end{scope}

\node[font=\fs{14}, fill=blue!15!white!90!gray, draw=blue!50!cyan!80!black, rounded corners=2bp, inner xsep=4bp, inner ysep=1.5bp, anchor=center] at (85bp,-780bp) {1@12,472,9};
\node[font=\fs{11}, anchor=base west, inner sep=0bp] at (2bp,-788bp) {© IT-Finance.com};

\node[font=\fs{14}, fill=yellow!75!orange, draw=orange!70!black, inner xsep=2bp, inner ysep=1bp, anchor=west, minimum height=17bp] at (1215bp,-234.5bp) {12 645,0};
\node[font=\fs{14}, fill=blue!8!white, draw=blue!40!gray, text=blue!75!black, inner xsep=2bp, inner ysep=1bp, anchor=west, minimum height=17bp] at (1215bp,-462.5bp) {12 551,2};

\draw[axisgray] (0.5bp,-0.5bp) rectangle (1279.5bp,-1023.5bp);
\pgfresetboundingbox
\useasboundingbox (0,0) rectangle (1280bp,-1024bp);
\end{tikzpicture}
\end{document}
